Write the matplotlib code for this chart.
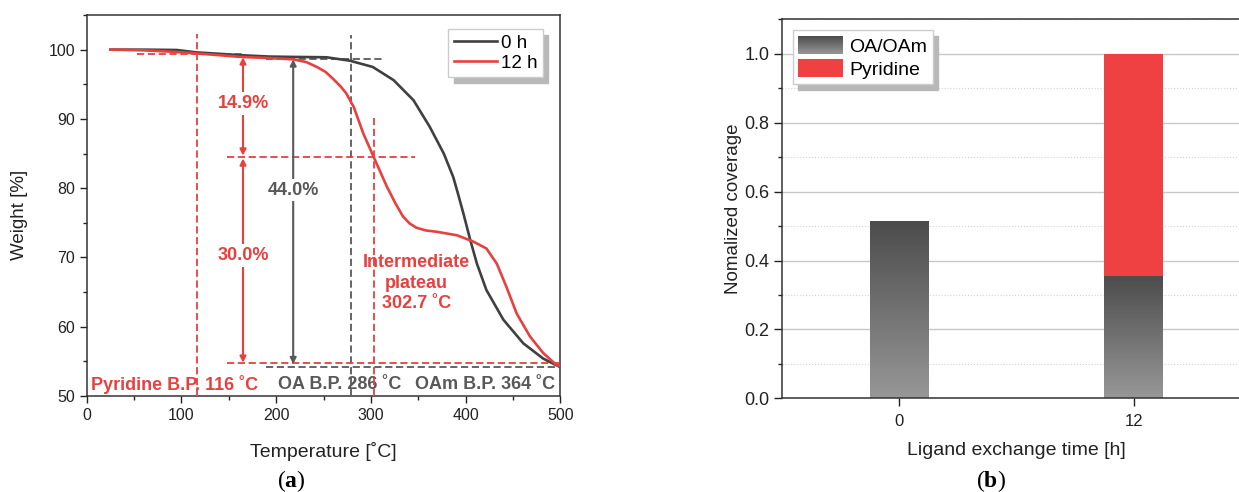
import numpy as np
import matplotlib
matplotlib.use('Agg')
import matplotlib.pyplot as plt
from matplotlib.colors import LinearSegmentedColormap
from matplotlib.legend_handler import HandlerBase
from matplotlib.patches import Rectangle, Patch
from matplotlib.ticker import MultipleLocator, FormatStrFormatter

plt.rcParams['font.family'] = ['Liberation Sans', 'DejaVu Sans']
plt.rcParams['mathtext.fontset'] = 'custom'
plt.rcParams['mathtext.rm'] = 'Liberation Serif'
plt.rcParams['mathtext.bf'] = 'Liberation Serif:bold'

RED = '#e8403f'
DARK = '#404040'
GRAY = '#595959'
BAR_RED = '#ef4141'

# (a) TGA curves
temp_0h = [25, 60, 95, 116, 140, 162, 193, 218, 253, 278, 302, 324, 345, 362,
           377, 387, 392, 398, 405, 412, 422, 440, 461, 482, 495, 500]
weight_0h = [100.0, 100.0, 99.95, 99.6, 99.4, 99.2, 99.0, 98.95, 98.9, 98.4,
             97.5, 95.6, 92.7, 88.9, 85.0, 81.6, 79.2, 76.2, 72.5, 69.1, 65.3,
             61.0, 57.6, 55.4, 54.5, 54.2]

temp_12h = [25, 60, 90, 116, 140, 162, 190, 218, 232, 243, 252, 260, 268, 274,
            282, 292, 303, 317, 326, 334, 341, 348, 358, 370, 391, 408, 422,
            433, 443, 454, 468, 482, 495, 500]
weight_12h = [100.0, 99.9, 99.7, 99.45, 99.2, 98.95, 98.8, 98.6, 98.2, 97.5,
              96.8, 95.8, 94.7, 93.7, 91.7, 87.9, 84.5, 80.2, 77.8, 75.9, 74.9,
              74.3, 73.9, 73.7, 73.2, 72.3, 71.3, 69.1, 65.8, 61.9, 58.6, 56.2,
              54.6, 54.3]

# (b) normalized ligand coverage
times = ['0', '12']
oa_oam = [0.512, 0.355]
pyridine = [0.0, 0.645]

gray_cmap = LinearSegmentedColormap.from_list('bargray', ['#979797', '#4c4c4c'])


class GradPatch(Patch):
    pass


class GradientHandler(HandlerBase):
    def create_artists(self, legend, orig_handle, xdescent, ydescent,
                       width, height, fontsize, trans):
        n = 30
        arts = []
        for i in range(n):
            r = Rectangle((-xdescent, -ydescent + height * i / n), width,
                          height / n * 1.05, facecolor=gray_cmap(i / (n - 1)),
                          edgecolor='none', transform=trans)
            arts.append(r)
        return arts


fig = plt.figure(figsize=(12.39, 4.92), dpi=100)

# ---------------- (a) ----------------
ax1 = fig.add_axes([0.0700, 0.1951, 0.3822, 0.7744])
ax1.plot(temp_0h, weight_0h, color=DARK, lw=1.9, label='0 h', zorder=4)
ax1.plot(temp_12h, weight_12h, color=RED, lw=1.9, label='12 h', zorder=5)

dash = (0, (4, 2))
# vertical markers
ax1.plot([116, 116], [50, 102.2], color=RED, lw=1.3, ls=dash, zorder=3)
ax1.plot([279, 279], [50, 102.1], color=GRAY, lw=1.3, ls=dash, zorder=3)
ax1.plot([303, 303], [50, 90.5], color=RED, lw=1.3, ls=dash, zorder=3)
# horizontal markers
ax1.plot([53, 167], [99.4, 99.4], color=RED, lw=1.3, ls=dash, zorder=3)
ax1.plot([189, 313], [98.6, 98.6], color=GRAY, lw=1.3, ls=dash, zorder=3)
ax1.plot([148, 347], [84.5, 84.5], color=RED, lw=1.3, ls=dash, zorder=3)
ax1.plot([148, 500], [54.7, 54.7], color=RED, lw=1.3, ls=dash, zorder=3)
ax1.plot([189, 500], [54.2, 54.2], color=GRAY, lw=1.3, ls=dash, zorder=3)

arrow_red = dict(arrowstyle='<|-|>', color=RED, lw=1.5, shrinkA=0, shrinkB=0,
                 mutation_scale=9)
arrow_gray = dict(arrowstyle='<|-|>', color=GRAY, lw=1.5, shrinkA=0, shrinkB=0,
                  mutation_scale=9)
ax1.annotate('', xy=(165, 98.9), xytext=(165, 84.7), arrowprops=arrow_red, zorder=6)
ax1.annotate('', xy=(165, 84.3), xytext=(165, 54.8), arrowprops=arrow_red, zorder=6)
ax1.annotate('', xy=(218, 98.6), xytext=(218, 54.6), arrowprops=arrow_gray, zorder=6)

box = dict(fc='white', ec='none', pad=2)
ax1.text(165, 92.2, '14.9%', color=RED, weight='bold', fontsize=13,
         ha='center', va='center', bbox=box, zorder=7)
ax1.text(165, 70.3, '30.0%', color=RED, weight='bold', fontsize=13,
         ha='center', va='center', bbox=box, zorder=7)
ax1.text(218, 79.7, '44.0%', color=GRAY, weight='bold', fontsize=13,
         ha='center', va='center', bbox=box, zorder=7)
ax1.text(348, 66.3, 'Intermediate\nplateau\n302.7 ˚C', color=RED,
         weight='bold', fontsize=13, ha='center', va='center',
         linespacing=1.3, zorder=7)
ax1.text(5, 51.7, 'Pyridine B.P. 116 ˚C', color=RED, weight='bold',
         fontsize=13, ha='left', va='center', zorder=2)
ax1.text(202, 51.7, 'OA B.P. 286 ˚C', color=GRAY, weight='bold',
         fontsize=13, ha='left', va='center', zorder=2)
ax1.text(346.5, 51.7, 'OAm B.P. 364 ˚C', color=GRAY, weight='bold',
         fontsize=13, ha='left', va='center', zorder=2)

ax1.set_xlim(0, 500)
ax1.set_ylim(50, 105)
ax1.xaxis.set_major_locator(MultipleLocator(100))
ax1.xaxis.set_minor_locator(MultipleLocator(50))
ax1.yaxis.set_major_locator(MultipleLocator(10))
ax1.yaxis.set_minor_locator(MultipleLocator(5))
ax1.set_yticks([50, 60, 70, 80, 90, 100])
ax1.tick_params(which='major', direction='out', length=5, width=1,
                labelsize=11.5, colors='#222222')
ax1.tick_params(which='minor', direction='out', length=3, width=1,
                colors='#222222')
for s in ax1.spines.values():
    s.set_color('#333333')
    s.set_linewidth(1.1)
ax1.set_xlabel('Temperature [˚C]', fontsize=14, color='#222222')
ax1.set_ylabel('Weight [%]', fontsize=13.5, color='#222222')
ax1.xaxis.set_label_coords(0.5, -0.12)
ax1.yaxis.set_label_coords(-0.123, 0.475)

ax1.legend(loc='upper left', bbox_to_anchor=(0.763, 0.963), borderaxespad=0,
           fontsize=13.5, handlelength=2.3, handletextpad=0.2,
           labelspacing=0.15, borderpad=0.3, fancybox=False,
           edgecolor='#cccccc', framealpha=1,
           shadow={'color': '#b8b8b8', 'alpha': 1, 'ox': 4, 'oy': -4})

# ---------------- (b) ----------------
ax2 = fig.add_axes([0.6309, 0.1904, 0.3691, 0.7703])
x = np.arange(len(times))
width = 0.25
bars = ax2.bar(x, oa_oam, width=width, color='none', edgecolor='none', zorder=2)
grad = np.linspace(0, 1, 256).reshape(-1, 1)
for b in bars:
    x0 = b.get_x()
    ax2.imshow(grad, extent=(x0, x0 + b.get_width(), 0, b.get_height()),
               origin='lower', cmap=gray_cmap, aspect='auto', zorder=2,
               interpolation='bilinear')
ax2.bar(x, pyridine, bottom=oa_oam, width=width, color=BAR_RED, zorder=2)

ax2.set_xlim(-0.5, 1.448)
ax2.set_ylim(0, 1.1)
ax2.set_aspect('auto')
ax2.set_xticks(x, times)
ax2.yaxis.set_major_locator(MultipleLocator(0.2))
ax2.yaxis.set_minor_locator(MultipleLocator(0.1))
ax2.yaxis.set_major_formatter(FormatStrFormatter('%.1f'))
ax2.set_yticks([0.0, 0.2, 0.4, 0.6, 0.8, 1.0])
ax2.grid(axis='y', which='major', color='#c8c8c8', lw=1)
ax2.grid(axis='y', which='minor', color='#d2d2d2', lw=0.8, ls=':')
ax2.set_axisbelow(True)
ax2.tick_params(axis='x', which='major', direction='out', length=6, width=1,
                labelsize=12, colors='#222222', pad=5)
ax2.tick_params(axis='y', which='major', direction='out', length=6, width=1,
                labelsize=13, colors='#222222', pad=3)
ax2.tick_params(axis='y', which='minor', direction='out', length=3, width=1,
                colors='#222222')
ax2.spines['right'].set_visible(False)
for s in ['left', 'top', 'bottom']:
    ax2.spines[s].set_color('#333333')
    ax2.spines[s].set_linewidth(1.1)
ax2.set_xlabel('Ligand exchange time [h]', fontsize=14, color='#222222')
ax2.set_ylabel('Nomalized coverage', fontsize=13.5, color='#222222')
ax2.xaxis.set_label_coords(0.514, -0.115)
ax2.yaxis.set_label_coords(-0.0875, 0.5)

handles = [GradPatch(label='OA/OAm'), Patch(facecolor=BAR_RED, label='Pyridine')]
ax2.legend(handles=handles, handler_map={GradPatch: GradientHandler()},
           loc='upper left', bbox_to_anchor=(0.024, 0.972), borderaxespad=0,
           fontsize=14, handlelength=2.3, handleheight=1.1,
           handletextpad=0.3, labelspacing=0.15, borderpad=0.3,
           fancybox=False, edgecolor='#cccccc', framealpha=1,
           shadow={'color': '#b8b8b8', 'alpha': 1, 'ox': 4, 'oy': -4})

fig.text(291 / 1239, 1 - 481 / 492, r'($\mathbf{a}$)', ha='center',
         va='center', fontsize=17, family='Liberation Serif')
fig.text(991 / 1239, 1 - 481 / 492, r'($\mathbf{b}$)', ha='center',
         va='center', fontsize=17, family='Liberation Serif')

fig.savefig('out.png', dpi=100)
